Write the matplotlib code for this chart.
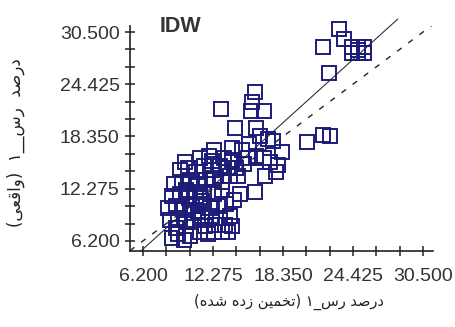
import matplotlib
matplotlib.use("Agg")
import matplotlib.pyplot as plt
import numpy as np
from matplotlib.ticker import MultipleLocator, FixedLocator

# Cross-validation: estimated vs. observed clay percentage (IDW)
estimated = [
    8.72, 9.24, 9.76, 9.06, 10.28, 11.15, 11.84, 12.36, 13.06, 13.58,
    11.58, 12.45, 13.32, 13.93, 8.54, 9.24, 9.93, 10.63, 11.32, 12.19,
    12.88, 13.75, 8.37, 9.06, 9.76, 10.45, 11.15, 12.02, 12.71, 13.40,
    14.10, 8.72, 9.41, 10.11, 10.80, 11.50, 12.36, 13.06, 14.62, 15.92,
    8.89, 9.59, 10.28, 10.97, 11.67, 12.36, 13.06, 13.75, 14.45, 9.41,
    10.11, 10.80, 11.50, 12.19, 12.88, 13.58, 14.27, 14.97, 9.85, 11.93,
    12.19, 11.15, 13.23, 13.93, 15.31, 16.01, 12.36, 13.93, 15.40, 16.36,
    17.48, 16.70, 17.22, 17.92, 18.27, 17.75, 16.79, 15.92, 15.66, 12.97,
    15.58, 16.70, 14.19, 16.01, 17.05, 14.79, 20.44, 21.83, 22.43, 23.21,
    23.65, 21.83, 24.34, 24.86, 25.38, 24.34, 24.86, 25.38, 24.86, 22.35,
    10.60, 11.30, 9.90, 10.20, 11.00,
]
observed = [
    6.55, 7.01, 6.31, 7.71, 6.78, 7.24, 7.01, 7.24, 7.24, 7.24,
    7.94, 8.06, 8.06, 7.94, 8.64, 8.87, 8.41, 8.64, 9.10, 9.10,
    8.87, 9.10, 10.03, 10.27, 9.80, 10.27, 10.50, 10.03, 10.27, 10.50,
    10.97, 11.43, 11.66, 11.90, 11.43, 11.90, 11.66, 12.13, 11.66, 11.90,
    12.83, 13.06, 13.29, 12.83, 13.29, 13.52, 13.06, 13.76, 13.76, 14.45,
    14.69, 14.22, 14.92, 14.45, 14.92, 14.69, 14.69, 15.15, 15.38, 16.08,
    15.50, 15.85, 15.85, 15.62, 15.85, 16.08, 16.78, 17.01, 17.48, 18.41,
    17.83, 15.85, 15.38, 15.03, 16.55, 14.22, 13.76, 23.52, 22.36, 21.55,
    21.31, 21.31, 19.34, 19.34, 18.06, 16.78, 17.71, 18.52, 18.41, 30.85,
    29.69, 28.76, 28.76, 28.76, 28.76, 28.06, 28.06, 28.06, 28.40, 25.73,
    9.50, 10.80, 12.10, 11.20, 9.70,
]

# Regression of observed on estimated
reg_slope = 1.21
reg_intercept = -2.25

tick_values = [6.200, 12.275, 18.350, 24.425, 30.500]
tick_labels = ["6.200", "12.275", "18.350", "24.425", "30.500"]

title_text = "IDW"
xlabel_text = "درصد رس_۱ (تخمین زده شده)"
ylabel_text = "درصد  رس__۱  (واقعی)"


# --- minimal Persian shaping (contextual forms + right-to-left order) ---
# letter: (isolated, final, initial, medial); None => letter never joins forward
_FORMS = {
    "د": ("\uFEA9", "\uFEAA", None, None),
    "ر": ("\uFEAD", "\uFEAE", None, None),
    "ز": ("\uFEAF", "\uFEB0", None, None),
    "و": ("\uFEED", "\uFEEE", None, None),
    "ا": ("\uFE8D", "\uFE8E", None, None),
    "ص": ("\uFEB9", "\uFEBA", "\uFEBB", "\uFEBC"),
    "س": ("\uFEB1", "\uFEB2", "\uFEB3", "\uFEB4"),
    "ش": ("\uFEB5", "\uFEB6", "\uFEB7", "\uFEB8"),
    "ق": ("\uFED5", "\uFED6", "\uFED7", "\uFED8"),
    "ع": ("\uFEC9", "\uFECA", "\uFECB", "\uFECC"),
    "ی": ("\uFEEF", "\uFEF0", "\uFEF3", "\uFEF4"),
    "ت": ("\uFE95", "\uFE96", "\uFE97", "\uFE98"),
    "خ": ("\uFEA5", "\uFEA6", "\uFEA7", "\uFEA8"),
    "م": ("\uFEE1", "\uFEE2", "\uFEE3", "\uFEE4"),
    "ن": ("\uFEE5", "\uFEE6", "\uFEE7", "\uFEE8"),
    "ه": ("\uFEE9", "\uFEEA", "\uFEEB", "\uFEEC"),
}
_MIRROR = {"(": ")", ")": "("}


def shape_rtl(text):
    out = []
    n = len(text)
    for i, ch in enumerate(text):
        if ch not in _FORMS:
            out.append(_MIRROR.get(ch, ch))
            continue
        prev = text[i - 1] if i > 0 else ""
        nxt = text[i + 1] if i < n - 1 else ""
        joins_prev = prev in _FORMS and _FORMS[prev][2] is not None
        joins_next = _FORMS[ch][2] is not None and nxt in _FORMS
        iso, fin, ini, med = _FORMS[ch]
        if joins_prev and joins_next:
            out.append(med)
        elif joins_prev:
            out.append(fin)
        elif joins_next:
            out.append(ini)
        else:
            out.append(iso)
    return "".join(reversed(out))


W, H = 455, 327
fig = plt.figure(figsize=(W / 100, H / 100), dpi=100)
fig.patch.set_facecolor("white")
ax = fig.add_axes([130 / W, 1 - 251 / H, 303 / W, 225 / H])

xmin, xmax = 5.07, 31.37
ymin, ymax = 5.03, 31.2
ax.set_xlim(xmin, xmax)
ax.set_ylim(ymin, ymax)

# 1:1 reference line
ax.plot([xmin, xmax], [xmin, xmax], color="#222222", lw=1.0,
        linestyle=(0, (4, 6)), zorder=2)

# regression line
xr = np.array([(ymin - reg_intercept) / reg_slope, 28.3])
ax.plot(xr, reg_slope * xr + reg_intercept, color="#333333", lw=0.8,
        zorder=2, clip_on=False)

ax.plot(estimated, observed, linestyle="none", marker="s", markersize=10.5,
        markerfacecolor="none", markeredgecolor="#1c1c78",
        markeredgewidth=1.4, zorder=3, clip_on=False)

for side in ("top", "right"):
    ax.spines[side].set_visible(False)
for side in ("left", "bottom"):
    ax.spines[side].set_color("#222222")
    ax.spines[side].set_linewidth(1.2)

ax.xaxis.set_major_locator(FixedLocator(tick_values))
ax.yaxis.set_major_locator(FixedLocator(tick_values))
ax.set_xticklabels(tick_labels)
ax.set_yticklabels(tick_labels)
ax.xaxis.set_minor_locator(MultipleLocator(2.025, offset=6.2))
ax.yaxis.set_minor_locator(MultipleLocator(2.025, offset=6.2))
ax.tick_params(which="both", direction="inout", length=7, width=1.1,
               color="#222222")
ax.tick_params(axis="x", which="major", labelsize=14, pad=9,
               labelcolor="#333333")
ax.tick_params(axis="y", which="major", labelsize=14, pad=4,
               labelcolor="#333333")
for lab in ax.get_xticklabels() + ax.get_yticklabels():
    lab.set_family("Liberation Sans")

ax.text(160 / W, 1 - 26 / H, title_text, transform=fig.transFigure,
        fontsize=15.5, fontweight="bold", color="#333333",
        family="Liberation Sans", ha="left", va="center")

fig.text(289 / W, 1 - 302 / H, shape_rtl(xlabel_text), fontsize=10.5,
         color="#222222", family="DejaVu Sans", ha="center", va="center")
fig.text(16 / W, 1 - 143 / H, shape_rtl(ylabel_text), fontsize=12,
         color="#222222", family="DejaVu Sans", ha="center", va="center",
         rotation=90)

fig.savefig("out.png", dpi=100, facecolor="white")
